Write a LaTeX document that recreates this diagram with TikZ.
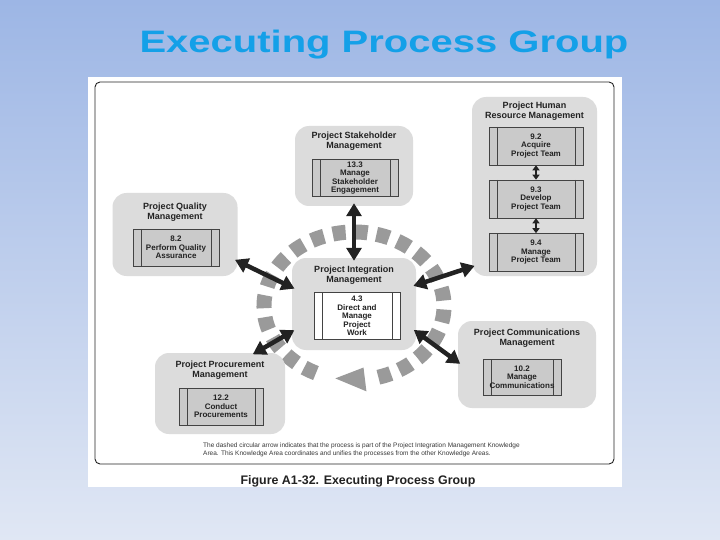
\documentclass[tikz,border=0pt]{standalone}
\usepackage{fontspec}
\setmainfont{Liberation Sans}
\usetikzlibrary{arrows.meta,positioning}
\definecolor{skytop}{HTML}{9DB6E5}
\definecolor{skybottom}{HTML}{E0E7F4}
\definecolor{titleblue}{HTML}{14A0E8}
\definecolor{areagrey}{HTML}{DCDCDC}
\definecolor{procgrey}{HTML}{CACACA}
\definecolor{ringgrey}{HTML}{9A9A9A}
\definecolor{inkdark}{HTML}{222222}
% knowledge area: grey rounded panel with its heading on top
\newcommand{\areabox}[6]{%
  \node[areanode,minimum width=#3,minimum height=#4] (#1) at (#2) {};
  \node[areahead,below=#5 of #1.north] (#1-head) {#6};}
% process: box with a bar on each side
\newcommand{\procbox}[6]{%
  \node[procnode,fill=#5,minimum width=#3,minimum height=#4] (#1) at (#2) {#6};}

\begin{document}
\begin{tikzpicture}[x=1pt,y=-1pt,
    areanode/.style={fill=areagrey,rounded corners=14pt,inner sep=0pt},
    areahead/.style={font=\fontsize{9}{10}\selectfont\bfseries,align=center,
      text=inkdark,inner sep=0pt},
    procnode/.style={draw=inkdark!85,line width=0.6pt,inner sep=1pt,align=center,
      text=inkdark,font=\fontsize{8}{8.5}\selectfont\bfseries,
      path picture={\draw[inkdark!85,line width=0.5pt]
        ([xshift=8pt]path picture bounding box.north west) --
        ([xshift=8pt]path picture bounding box.south west)
        ([xshift=-8pt]path picture bounding box.north east) --
        ([xshift=-8pt]path picture bounding box.south east);}},
    linkarrow/.style={draw=inkdark,line width=4.5pt,
      {Triangle[length=13pt,width=15pt]}-{Triangle[length=13pt,width=15pt]},
      shorten <=-3pt,shorten >=-3pt},
    teamarrow/.style={draw=inkdark,line width=2.2pt,
      {Triangle[length=5pt,width=7pt]}-{Triangle[length=5pt,width=7pt]}}]
  \useasboundingbox (0,0) rectangle (720,540);
  \shade[top color=skytop,bottom color=skybottom] (0,0) rectangle (720,540);

  \node[font=\fontsize{31}{31}\selectfont\bfseries,text=titleblue,anchor=base]
    (title) at (384,53) {\scalebox{1.29}[1]{Executing Process Group}};

  % figure sheet
  \fill[white] (88,77) rectangle (622,487);
  \draw[inkdark,line width=0.9pt,rounded corners=5pt] (95,82) rectangle (614,464);

  % dashed circular arrow round the integration area
  \coordinate (ringc) at (354,306);
  \draw[ringgrey,line width=15pt,dash pattern=on 13pt off 9pt]
    (ringc) ++(115:90 and 74) arc[start angle=115,end angle=438,x radius=90,y radius=74];
  \path (ringc) ++(83:102 and 86) coordinate (headout)
        (ringc) ++(83:78 and 62) coordinate (headin)
        (ringc) ++(102:90 and 74) coordinate (headtip);
  \fill[ringgrey] (headout) -- (headin) -- (headtip) -- cycle;

  \areabox{stake}{354,166}{118pt}{80pt}{6pt}{Project Stakeholder\\Management}
  \areabox{integ}{354,304}{124pt}{92pt}{8pt}{Project Integration\\Management}
  \areabox{qual}{175,234.5}{125pt}{83pt}{10pt}{Project Quality\\Management}
  \areabox{hr}{534.5,186.5}{125pt}{179pt}{5pt}{Project Human\\Resource Management}
  \areabox{comm}{527,364.5}{138pt}{87pt}{8pt}{Project Communications\\Management}
  \areabox{proc}{220,393.5}{130pt}{81pt}{8pt}{Project Procurement\\Management}

  \procbox{s1}{355,178}{86pt}{37pt}{procgrey}{13.3\\Manage\\Stakeholder\\Engagement}
  \procbox{i1}{357,316}{86pt}{47pt}{white}{4.3\\Direct and\\Manage\\Project\\Work}
  \procbox{q1}{176,247.5}{86pt}{37pt}{procgrey}{8.2\\Perform Quality\\Assurance}
  \procbox{h1}{536,146}{94pt}{38pt}{procgrey}{9.2\\Acquire\\Project Team}
  \procbox{h2}{536,199}{94pt}{38pt}{procgrey}{9.3\\Develop\\Project Team}
  \procbox{h3}{536,252.5}{94pt}{38pt}{procgrey}{9.4\\Manage\\Project Team}
  \procbox{c1}{522,377}{78pt}{36pt}{procgrey}{10.2\\Manage\\Communications}
  \procbox{p1}{221,406.5}{84pt}{37pt}{procgrey}{12.2\\Conduct\\Procurements}

  \draw[teamarrow] (h1) -- (h2);
  \draw[teamarrow] (h2) -- (h3);

  \draw[linkarrow] (stake.south) -- (integ.north);
  \draw[linkarrow] (qual.-23) -- (integ.165);
  \draw[linkarrow] (hr.232) -- (integ.17);
  \draw[linkarrow] (proc.49) -- (integ.204);
  \draw[linkarrow] (integ.-24) -- (comm.178);

  \node[font=\fontsize{6.5}{8}\selectfont,text=inkdark!90,align=left,anchor=north west,
    inner sep=0pt] (note) at (203,443)
    {The dashed circular arrow indicates that the process is part of the Project Integration Management Knowledge\\
     Area. This Knowledge Area coordinates and unifies the processes from the other Knowledge Areas.};
  \node[font=\fontsize{12.4}{12.4}\selectfont\bfseries,text=inkdark,anchor=base]
    (caption) at (358,484) {Figure A1-32. Executing Process Group};
\end{tikzpicture}
\end{document}
